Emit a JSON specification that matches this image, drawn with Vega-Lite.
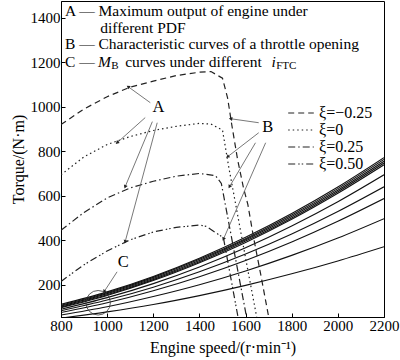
{
  "$schema": "https://vega.github.io/schema/vega-lite/v6.json",
  "width": 323,
  "height": 316,
  "autosize": {"type": "none"},
  "padding": {"left": 61, "top": 1, "right": 16, "bottom": 43},
  "background": "white",
  "config": {
    "font": "Liberation Serif",
    "view": {"stroke": "#000", "strokeWidth": 1},
    "axis": {"grid": false, "domainColor": "#000", "tickColor": "#000", "labelColor": "#000", "titleColor": "#000", "labelFontSize": 15, "titleFontSize": 16, "titleFontWeight": "normal", "tickSize": -4, "labelPadding": 5, "labelFont": "Liberation Serif", "titleFont": "Liberation Serif", "labelOverlap": false, "labelFlush": false, "labelBound": false, "format": "d"},
    "legend": {"labelFont": "Liberation Serif", "labelFontSize": 16, "labelColor": "#000"}
  },
  "datasets": {
    "mb": [
      {"id": 1, "x": 800, "y": 112}, {"id": 1, "x": 1000, "y": 168}, {"id": 1, "x": 1200, "y": 237}, {"id": 1, "x": 1400, "y": 319}, {"id": 1, "x": 1600, "y": 413}, {"id": 1, "x": 1800, "y": 520}, {"id": 1, "x": 2000, "y": 639}, {"id": 1, "x": 2200, "y": 771},
      {"id": 2, "x": 800, "y": 108}, {"id": 2, "x": 1000, "y": 164}, {"id": 2, "x": 1200, "y": 233}, {"id": 2, "x": 1400, "y": 314}, {"id": 2, "x": 1600, "y": 407}, {"id": 2, "x": 1800, "y": 513}, {"id": 2, "x": 2000, "y": 632}, {"id": 2, "x": 2200, "y": 763},
      {"id": 3, "x": 800, "y": 104}, {"id": 3, "x": 1000, "y": 160}, {"id": 3, "x": 1200, "y": 228}, {"id": 3, "x": 1400, "y": 309}, {"id": 3, "x": 1600, "y": 402}, {"id": 3, "x": 1800, "y": 507}, {"id": 3, "x": 2000, "y": 625}, {"id": 3, "x": 2200, "y": 755},
      {"id": 4, "x": 800, "y": 100}, {"id": 4, "x": 1000, "y": 155}, {"id": 4, "x": 1200, "y": 223}, {"id": 4, "x": 1400, "y": 303}, {"id": 4, "x": 1600, "y": 396}, {"id": 4, "x": 1800, "y": 500}, {"id": 4, "x": 2000, "y": 618}, {"id": 4, "x": 2200, "y": 747},
      {"id": 5, "x": 800, "y": 97}, {"id": 5, "x": 1000, "y": 152}, {"id": 5, "x": 1200, "y": 219}, {"id": 5, "x": 1400, "y": 299}, {"id": 5, "x": 1600, "y": 390}, {"id": 5, "x": 1800, "y": 494}, {"id": 5, "x": 2000, "y": 611}, {"id": 5, "x": 2200, "y": 739},
      {"id": 6, "x": 800, "y": 90}, {"id": 6, "x": 1000, "y": 142}, {"id": 6, "x": 1200, "y": 205}, {"id": 6, "x": 1400, "y": 280}, {"id": 6, "x": 1600, "y": 366}, {"id": 6, "x": 1800, "y": 464}, {"id": 6, "x": 2000, "y": 573}, {"id": 6, "x": 2200, "y": 694},
      {"id": 7, "x": 800, "y": 83}, {"id": 7, "x": 1000, "y": 131}, {"id": 7, "x": 1200, "y": 189}, {"id": 7, "x": 1400, "y": 258}, {"id": 7, "x": 1600, "y": 338}, {"id": 7, "x": 1800, "y": 428}, {"id": 7, "x": 2000, "y": 529}, {"id": 7, "x": 2200, "y": 640},
      {"id": 8, "x": 800, "y": 75}, {"id": 8, "x": 1000, "y": 119}, {"id": 8, "x": 1200, "y": 173}, {"id": 8, "x": 1400, "y": 236}, {"id": 8, "x": 1600, "y": 309}, {"id": 8, "x": 1800, "y": 392}, {"id": 8, "x": 2000, "y": 485}, {"id": 8, "x": 2200, "y": 587},
      {"id": 9, "x": 800, "y": 64}, {"id": 9, "x": 1000, "y": 101}, {"id": 9, "x": 1200, "y": 147}, {"id": 9, "x": 1400, "y": 200}, {"id": 9, "x": 1600, "y": 262}, {"id": 9, "x": 1800, "y": 332}, {"id": 9, "x": 2000, "y": 410}, {"id": 9, "x": 2200, "y": 497},
      {"id": 10, "x": 800, "y": 50}, {"id": 10, "x": 1000, "y": 78}, {"id": 10, "x": 1200, "y": 111}, {"id": 10, "x": 1400, "y": 151}, {"id": 10, "x": 1600, "y": 197}, {"id": 10, "x": 1800, "y": 249}, {"id": 10, "x": 2000, "y": 307}, {"id": 10, "x": 2200, "y": 371}
    ],
    "curves": [
      {"s": "ξ=−0.25", "x": 800, "y": 920}, {"s": "ξ=−0.25", "x": 900, "y": 990}, {"s": "ξ=−0.25", "x": 1000, "y": 1045}, {"s": "ξ=−0.25", "x": 1100, "y": 1088}, {"s": "ξ=−0.25", "x": 1200, "y": 1115}, {"s": "ξ=−0.25", "x": 1300, "y": 1140}, {"s": "ξ=−0.25", "x": 1400, "y": 1155}, {"s": "ξ=−0.25", "x": 1450, "y": 1158}, {"s": "ξ=−0.25", "x": 1500, "y": 1128}, {"s": "ξ=−0.25", "x": 1522, "y": 1040}, {"s": "ξ=−0.25", "x": 1540, "y": 920}, {"s": "ξ=−0.25", "x": 1565, "y": 765}, {"s": "ξ=−0.25", "x": 1590, "y": 640}, {"s": "ξ=−0.25", "x": 1610, "y": 560}, {"s": "ξ=−0.25", "x": 1635, "y": 410}, {"s": "ξ=−0.25", "x": 1665, "y": 250}, {"s": "ξ=−0.25", "x": 1700, "y": 56},
      {"s": "ξ=0", "x": 800, "y": 694}, {"s": "ξ=0", "x": 900, "y": 775}, {"s": "ξ=0", "x": 1000, "y": 830}, {"s": "ξ=0", "x": 1100, "y": 866}, {"s": "ξ=0", "x": 1200, "y": 893}, {"s": "ξ=0", "x": 1300, "y": 912}, {"s": "ξ=0", "x": 1400, "y": 925}, {"s": "ξ=0", "x": 1450, "y": 922}, {"s": "ξ=0", "x": 1500, "y": 895}, {"s": "ξ=0", "x": 1513, "y": 815}, {"s": "ξ=0", "x": 1526, "y": 735}, {"s": "ξ=0", "x": 1560, "y": 545}, {"s": "ξ=0", "x": 1600, "y": 320}, {"s": "ξ=0", "x": 1648, "y": 56},
      {"s": "ξ=0.25", "x": 800, "y": 445}, {"s": "ξ=0.25", "x": 900, "y": 525}, {"s": "ξ=0.25", "x": 1000, "y": 590}, {"s": "ξ=0.25", "x": 1100, "y": 635}, {"s": "ξ=0.25", "x": 1200, "y": 665}, {"s": "ξ=0.25", "x": 1300, "y": 688}, {"s": "ξ=0.25", "x": 1400, "y": 700}, {"s": "ξ=0.25", "x": 1470, "y": 690}, {"s": "ξ=0.25", "x": 1495, "y": 655}, {"s": "ξ=0.25", "x": 1604, "y": 56},
      {"s": "ξ=0.50", "x": 800, "y": 215}, {"s": "ξ=0.50", "x": 900, "y": 290}, {"s": "ξ=0.50", "x": 1000, "y": 352}, {"s": "ξ=0.50", "x": 1100, "y": 402}, {"s": "ξ=0.50", "x": 1200, "y": 437}, {"s": "ξ=0.50", "x": 1300, "y": 458}, {"s": "ξ=0.50", "x": 1400, "y": 468}, {"s": "ξ=0.50", "x": 1430, "y": 462}, {"s": "ξ=0.50", "x": 1504, "y": 411}, {"s": "ξ=0.50", "x": 1567, "y": 56}
    ],
    "arrows": [
      {"x": 1187, "y": 1018, "x2": 1091, "y2": 1090},
      {"x": 1165, "y": 951, "x2": 1043, "y2": 838},
      {"x": 1196, "y": 933, "x2": 1078, "y2": 640},
      {"x": 1217, "y": 928, "x2": 1078, "y2": 393},
      {"x": 1657, "y": 928, "x2": 1535, "y2": 946},
      {"x": 1657, "y": 883, "x2": 1522, "y2": 775},
      {"x": 1643, "y": 838, "x2": 1530, "y2": 640},
      {"x": 1687, "y": 838, "x2": 1504, "y2": 405},
      {"x": 1043, "y": 258, "x2": 987, "y2": 169}
    ]
  },
  "layer": [
    {
      "data": {"name": "mb"},
      "mark": {"type": "line", "color": "#111", "strokeWidth": 1.1, "clip": true, "interpolate": "monotone"},
      "encoding": {
        "x": {"field": "x", "type": "quantitative", "scale": {"domain": [800, 2200], "nice": false}, "axis": {"values": [800, 1000, 1200, 1400, 1600, 1800, 2000, 2200], "title": "Engine speed/(r·min⁻¹)", "titlePadding": 6}},
        "y": {"field": "y", "type": "quantitative", "scale": {"domain": [55, 1475], "nice": false, "zero": false}, "axis": {"values": [200, 400, 600, 800, 1000, 1200, 1400], "title": "Torque/(N·m)", "titlePadding": 4}},
        "detail": {"field": "id", "type": "nominal"}
      }
    },
    {
      "data": {"name": "curves"},
      "mark": {"type": "line", "color": "#222", "strokeWidth": 1.2, "clip": true},
      "encoding": {
        "x": {"field": "x", "type": "quantitative"},
        "y": {"field": "y", "type": "quantitative"},
        "strokeDash": {"field": "s", "type": "nominal", "scale": {"domain": ["ξ=−0.25", "ξ=0", "ξ=0.25", "ξ=0.50"], "range": [[6, 4], [1.5, 3], [7, 3, 1.5, 3], [7, 3, 1.5, 2, 1.5, 3]]},
          "legend": {"orient": "none", "legendX": 231, "legendY": 103, "title": null, "symbolType": "M-1.6,0H1.6", "symbolSize": 256, "symbolStrokeWidth": 1.2, "symbolStrokeColor": "#222", "symbolFillColor": "transparent", "rowPadding": 0, "labelOffset": 9}}
      }
    },
    {
      "data": {"name": "arrows"},
      "mark": {"type": "rule", "color": "#555", "strokeWidth": 0.8},
      "encoding": {
        "x": {"field": "x", "type": "quantitative"},
        "y": {"field": "y", "type": "quantitative"},
        "x2": {"field": "x2"},
        "y2": {"field": "y2"}
      }
    },
    {
      "data": {"name": "arrows"},
      "transform": [{"calculate": "atan2((datum.x2-datum.x)*0.23,(datum.y2-datum.y)*0.2225)*180/PI", "as": "ang"}],
      "mark": {"type": "point", "shape": "triangle-up", "filled": true, "color": "#222", "size": 16, "opacity": 1},
      "encoding": {
        "x": {"field": "x2", "type": "quantitative"},
        "y": {"field": "y2", "type": "quantitative"},
        "angle": {"field": "ang", "type": "quantitative", "scale": null}
      }
    },
    {
      "data": {"values": [{"x": 961, "y": 119}]},
      "mark": {"type": "point", "shape": "circle", "filled": false, "color": "#333", "strokeWidth": 0.8, "size": 600, "opacity": 1},
      "encoding": {
        "x": {"field": "x", "type": "quantitative"},
        "y": {"field": "y", "type": "quantitative"}
      }
    },
    {
      "data": {"values": [
        {"x": 817, "y": 1430, "t": "A — Maximum output of engine under"},
        {"x": 970, "y": 1352, "t": "different PDF"},
        {"x": 817, "y": 1283, "t": "B — Characteristic curves of a throttle opening"},
        {"x": 817, "y": 1202, "t": "C —"},
        {"x": 1078, "y": 1202, "t": "curves under different"}
      ]},
      "mark": {"type": "text", "align": "left", "baseline": "middle", "fontSize": 15.5, "color": "#000"},
      "encoding": {
        "x": {"field": "x", "type": "quantitative"},
        "y": {"field": "y", "type": "quantitative"},
        "text": {"field": "t"}
      }
    },
    {
      "data": {"values": [
        {"x": 1222, "y": 1000, "t": "A"},
        {"x": 1696, "y": 910, "t": "B"},
        {"x": 1070, "y": 303, "t": "C"}
      ]},
      "mark": {"type": "text", "align": "center", "baseline": "middle", "fontSize": 16.5, "color": "#000"},
      "encoding": {
        "x": {"field": "x", "type": "quantitative"},
        "y": {"field": "y", "type": "quantitative"},
        "text": {"field": "t"}
      }
    },
    {
      "data": {"values": [
        {"x": 960, "y": 1202, "t": "M"},
        {"x": 1712, "y": 1202, "t": "i"}
      ]},
      "mark": {"type": "text", "align": "left", "baseline": "middle", "fontSize": 15.5, "fontStyle": "italic", "color": "#000"},
      "encoding": {
        "x": {"field": "x", "type": "quantitative"},
        "y": {"field": "y", "type": "quantitative"},
        "text": {"field": "t"}
      }
    },
    {
      "data": {"values": [
        {"x": 1018, "y": 1184, "t": "B"},
        {"x": 1733, "y": 1184, "t": "FTC"}
      ]},
      "mark": {"type": "text", "align": "left", "baseline": "middle", "fontSize": 11, "color": "#000"},
      "encoding": {
        "x": {"field": "x", "type": "quantitative"},
        "y": {"field": "y", "type": "quantitative"},
        "text": {"field": "t"}
      }
    }
  ]
}
